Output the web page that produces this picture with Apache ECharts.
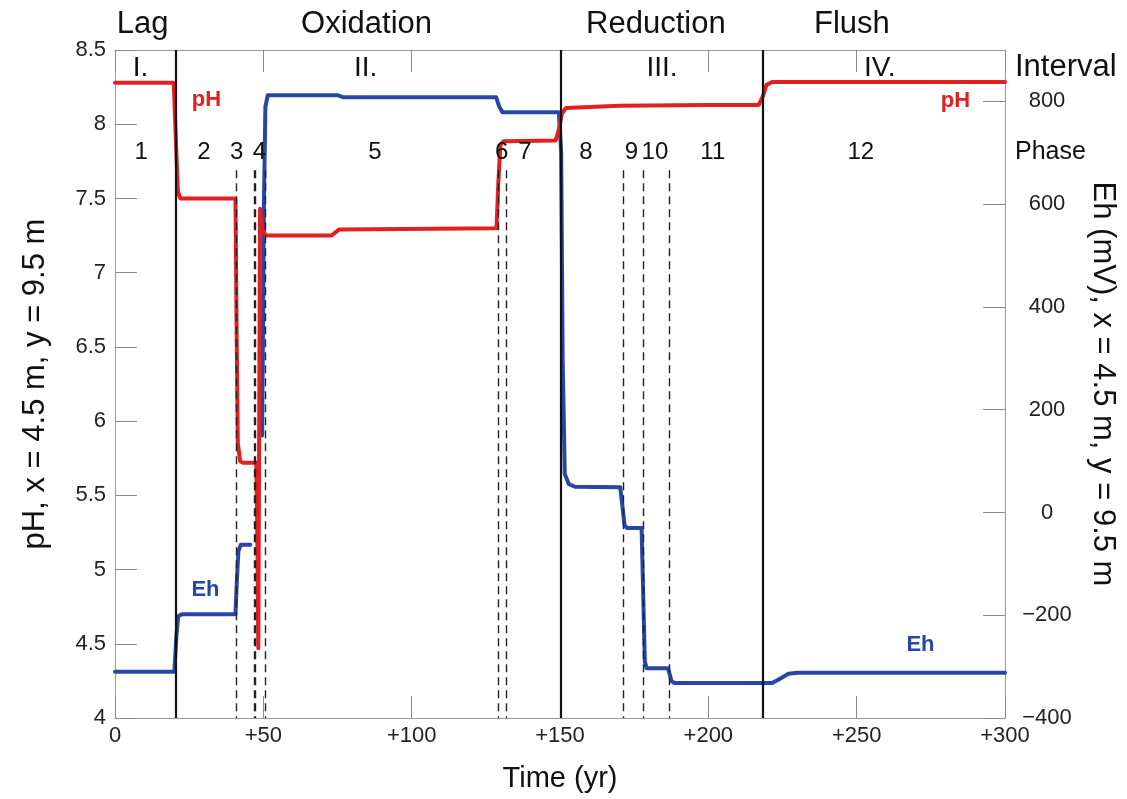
<!DOCTYPE html>
<html>
<head>
<meta charset="utf-8">
<script src="https://cdn.jsdelivr.net/npm/echarts@6/dist/echarts.min.js"></script>
<style>
  html, body { margin: 0; padding: 0; background: #fff; }
  #main { width: 1127px; height: 799px; }
</style>
</head>
<body>
<div id="main"></div>
<script>
// ---- data ----
const phData = [
  [0, 8.28], [19.8, 8.28], [20.6, 7.85], [21.2, 7.55], [22.0, 7.50], [40.6, 7.50],
  [41.0, 6.6], [41.4, 5.85], [42.2, 5.73], [43.0, 5.72], [47.6, 5.72],
  [48.0, 5.2], [48.3, 4.47], [48.9, 7.43], [49.6, 7.30], [50.8, 7.25],
  [73.0, 7.25], [75.5, 7.29], [128.6, 7.30], [129.2, 7.6], [129.9, 7.86], [131.0, 7.885],
  [148.5, 7.89], [149.6, 7.96], [150.6, 8.07], [152.0, 8.11], [170.0, 8.125], [200.0, 8.13],
  [217.0, 8.13], [218.4, 8.19], [219.6, 8.265], [221.5, 8.285], [300, 8.285]
];
const ehData = [
  [0, -310], [20.0, -310], [20.7, -240], [21.3, -202], [22.5, -198], [40.6, -198],
  [41.1, -130], [41.6, -75], [42.4, -63], [45.6, -63], [46.5, null],
  [49.6, 150], [50.2, 600], [50.7, 790], [51.5, 812], [75.0, 812], [77.0, 808],
  [128.5, 808], [129.5, 790], [130.6, 779], [149.6, 779], [150.4, 700], [150.9, 300],
  [151.6, 75], [153.0, 55], [155.0, 50], [170.3, 49], [171.8, -26], [172.6, -30],
  [177.5, -30], [178.6, -290], [179.2, -303], [186.4, -303], [187.6, -328], [188.6, -332],
  [221.5, -332], [224.0, -324], [227.0, -314], [230.0, -312], [300, -312]
];
const solidLines = [20.5, 150.2, 218.3];
const dashedLines = [40.8, 46.8, 47.4, 50.8, 129.2, 132.0, 171.3, 178.1, 186.8];
const xTickLabels = ['0', '+50', '+100', '+150', '+200', '+250', '+300'];
const stageNames = ['Lag', 'Oxidation', 'Reduction', 'Flush'];
const stageT = [9.3, 84.8, 182.3, 248.4];
const intervalNames = ['I.', 'II.', 'III.', 'IV.'];
const intervalT = [8.6, 84.5, 184.4, 257.8];
const phaseNames = ['1', '2', '3', '4', '5', '6', '7', '8', '9', '10', '11', '12'];
const phaseT = [8.8, 30.0, 41.0, 48.7, 87.6, 130.3, 138.2, 158.7, 174.1, 182.0, 201.5, 251.4];
const seriesTags = [
  { text: 'pH', t: 30.8, ph: 8.165, color: '#e3201f' },
  { text: 'pH', t: 283.3, ph: 8.16, color: '#e3201f' },
  { text: 'Eh', t: 30.5, ph: 4.86, color: '#2746a6' },
  { text: 'Eh', t: 271.5, ph: 4.49, color: '#2746a6' }
];

const FONT = '"Liberation Sans", Arial, Helvetica, sans-serif';
const RED = '#e3201f';
const BLUE = '#2746a6';

const markSolid = solidLines.map(t => [{ coord: [t, 8.5] }, { coord: [t, 4] }]);
const markDashed = dashedLines.map(t => [{ coord: [t, 7.69] }, { coord: [t, 4] }]);

const axisLineStyle = { show: true, onZero: false, lineStyle: { color: '#9a9a9a', width: 1 } };
const tickStyle = { show: true, inside: true, length: 22, lineStyle: { color: '#8a8a8a', width: 1 } };

const option = {
  animation: false,
  backgroundColor: '#ffffff',
  grid: { left: 115, right: 122, top: 50, bottom: 81, containLabel: false },
  xAxis: [
    {
      type: 'value', min: 0, max: 300, interval: 50, position: 'bottom',
      axisLine: axisLineStyle, axisTick: tickStyle, splitLine: { show: false },
      axisLabel: {
        margin: 7, fontSize: 22, color: '#222', fontFamily: FONT,
        formatter: v => xTickLabels[Math.round(v / 50)]
      },
      name: 'Time (yr)', nameLocation: 'middle', nameGap: 46,
      nameTextStyle: { fontSize: 29, color: '#111', fontFamily: FONT }
    },
    {
      type: 'value', min: 0, max: 300, interval: 50, position: 'top',
      axisLine: axisLineStyle, axisTick: tickStyle, splitLine: { show: false },
      axisLabel: { show: false }
    }
  ],
  yAxis: [
    {
      type: 'value', min: 4, max: 8.5, interval: 0.5, position: 'left',
      axisLine: axisLineStyle,
      axisTick: tickStyle, splitLine: { show: false },
      axisLabel: { margin: 9, fontSize: 22, color: '#222', fontFamily: FONT },
      name: 'pH, x = 4.5 m, y = 9.5 m', nameLocation: 'middle', nameGap: 64,
      nameTextStyle: { fontSize: 31, color: '#111', fontFamily: FONT }
    },
    {
      type: 'value', min: -400, max: 900, interval: 200, position: 'right',
      axisLine: axisLineStyle,
      axisTick: tickStyle, splitLine: { show: false },
      axisLabel: {
        margin: 42, fontSize: 22, color: '#222', fontFamily: FONT, align: 'center',
        showMaxLabel: false,
        formatter: v => (v < 0 ? '\u2212' + Math.abs(v) : String(v))
      },
      name: 'Eh (mV), x = 4.5 m, y = 9.5 m', nameLocation: 'middle', nameGap: 82, nameRotate: -90,
      nameTextStyle: { fontSize: 31, color: '#111', fontFamily: FONT }
    }
  ],
  series: [
    {
      type: 'line', data: [], xAxisIndex: 0, yAxisIndex: 0, z: 1,
      markLine: {
        silent: true, symbol: 'none', label: { show: false },
        lineStyle: { color: '#111', width: 2.2, type: 'solid' },
        data: markSolid
      }
    },
    {
      type: 'line', data: [], xAxisIndex: 0, yAxisIndex: 0, z: 1,
      markLine: {
        silent: true, symbol: 'none', label: { show: false },
        lineStyle: { color: '#222', width: 1.4, type: [8, 5] },
        data: markDashed
      }
    },
    {
      name: 'Eh', type: 'line', data: ehData, xAxisIndex: 0, yAxisIndex: 1, z: 3,
      showSymbol: false, connectNulls: false,
      lineStyle: { color: BLUE, width: 4, cap: 'round', join: 'round' }
    },
    {
      name: 'pH', type: 'line', data: phData, xAxisIndex: 0, yAxisIndex: 0, z: 4,
      showSymbol: false,
      lineStyle: { color: RED, width: 4, cap: 'round', join: 'round' }
    }
  ]
};

const chart = echarts.init(document.getElementById('main'), null, { renderer: 'canvas' });
chart.setOption(option);

const px = t => chart.convertToPixel({ xAxisIndex: 0 }, t);
const py = v => chart.convertToPixel({ yAxisIndex: 0 }, v);
const rightX = chart.convertToPixel({ xAxisIndex: 0 }, 300);

const g = [];
function txt(text, x, y, size, color, align, weight) {
  g.push({
    type: 'text', x: x, y: y, silent: true, z: 10,
    style: {
      text: text, fill: color, font: (weight || 'normal') + ' ' + size + 'px ' + FONT,
      textAlign: align || 'center', textVerticalAlign: 'middle'
    }
  });
}
stageNames.forEach((s, i) => txt(s, px(stageT[i]), 24, 31, '#111'));
intervalNames.forEach((s, i) => txt(s, px(intervalT[i]), py(8.38), 28, '#111'));
phaseNames.forEach((s, i) => txt(s, px(phaseT[i]), py(7.81), 24, '#111'));
txt('Interval', rightX + 10, py(8.38), 31, '#111', 'left');
txt('Phase', rightX + 10, py(7.81), 25, '#111', 'left');
seriesTags.forEach(o => txt(o.text, px(o.t), py(o.ph), 22, o.color, 'center', 'bold'));
chart.setOption({ graphic: g });
</script>
</body>
</html>
